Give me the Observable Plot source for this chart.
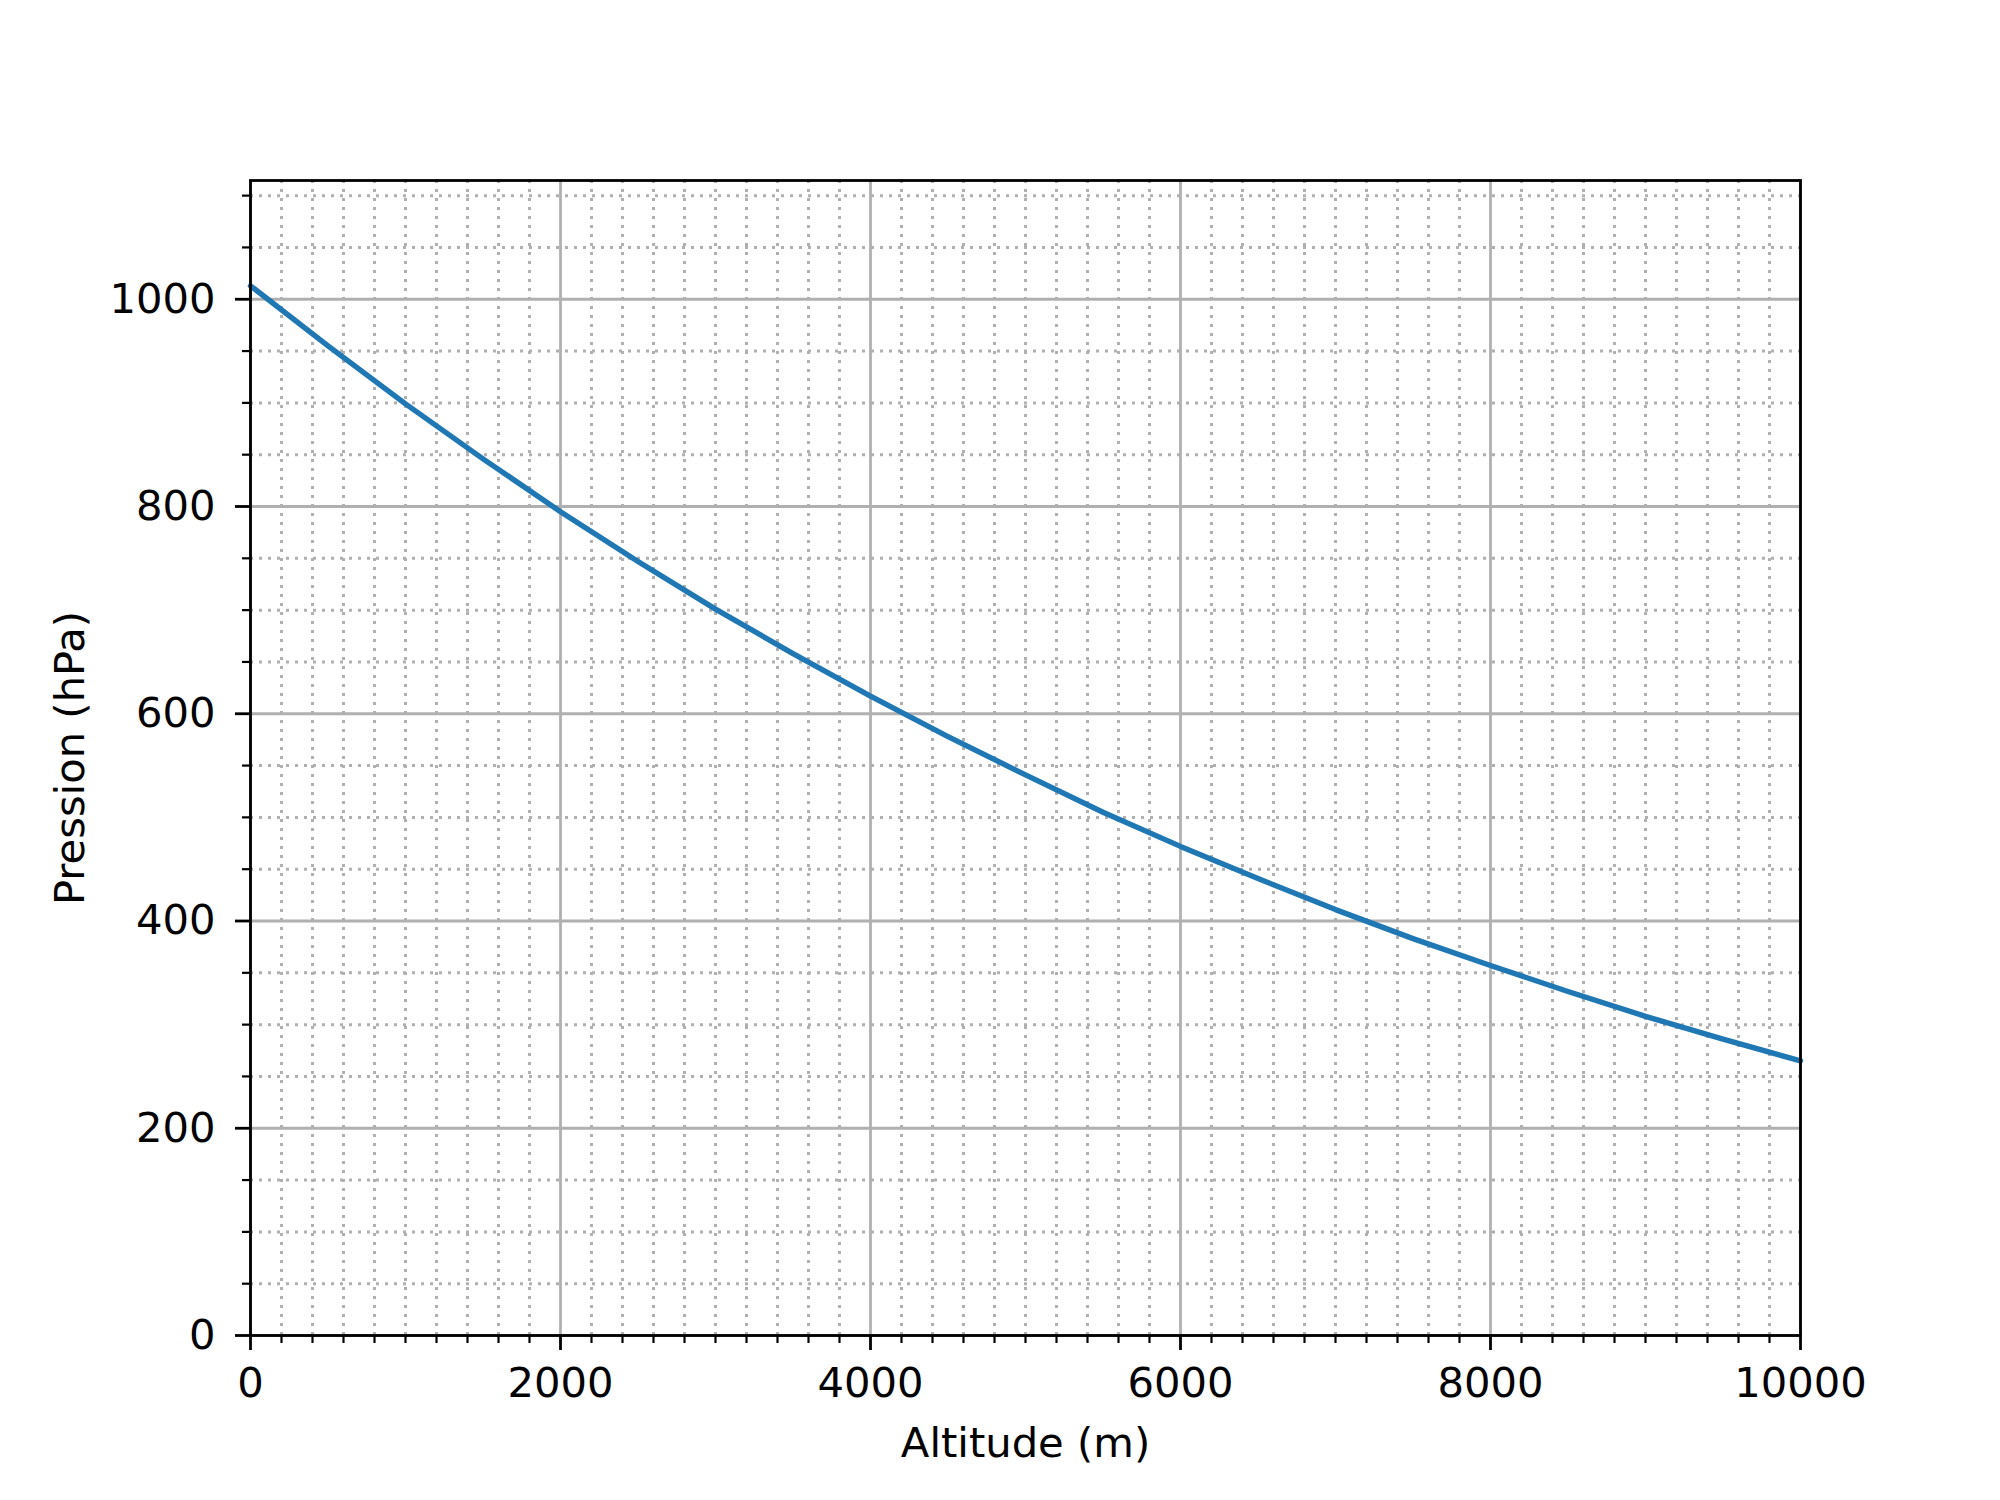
<!DOCTYPE html>
<html>
<head>
<meta charset="utf-8">
<script src="https://cdn.jsdelivr.net/npm/d3@7"></script>
<script src="https://cdn.jsdelivr.net/npm/@observablehq/plot@0.6"></script>
<style>
  html, body { margin: 0; padding: 0; background: white; }
</style>
</head>
<body>
<div id="chart"></div>
<script>
// Values
const altitudes = [0, 500, 1000, 1500, 2000, 2500, 3000, 3500, 4000, 4500, 5000,
                   5500, 6000, 6500, 7000, 7500, 8000, 8500, 9000, 9500, 10000];
const pressures = [1013, 955, 899, 846, 795, 747, 701, 658, 617, 578, 541,
                   505, 472, 441, 411, 383, 357, 332, 308, 286, 265];

const xMajorTicks = [0, 2000, 4000, 6000, 8000, 10000];
const xMinorTicks = d3.range(0, 10001, 200).filter(v => v % 2000 !== 0);
const yMajorTicks = [0, 200, 400, 600, 800, 1000];
const yMinorTicks = d3.range(0, 1114, 50).filter(v => v % 200 !== 0);

const xLabel = "Altitude (m)";
const yLabel = "Pression (hPa)";

const data = altitudes.map((a, i) => ({altitude: a, pression: pressures[i]}));
const FS = 41.7;

const chart = Plot.plot({
  width: 2000,
  height: 1500,
  marginLeft: 250,
  marginRight: 200,
  marginTop: 180,
  marginBottom: 165,
  style: {fontFamily: "DejaVu Sans", fontSize: FS + "px", background: "white", color: "black"},
  x: {domain: [0, 10000], label: null, axis: null},
  y: {domain: [0, 1114.6], label: null, axis: null},
  marks: [
    Plot.gridX(xMinorTicks, {stroke: "#b0b0b0", strokeOpacity: 1, strokeWidth: 3, strokeDasharray: "3,6"}),
    Plot.gridY(yMinorTicks, {stroke: "#b0b0b0", strokeOpacity: 1, strokeWidth: 3, strokeDasharray: "3,6"}),
    Plot.gridX(xMajorTicks, {stroke: "#b0b0b0", strokeOpacity: 1, strokeWidth: 2.8}),
    Plot.gridY(yMajorTicks, {stroke: "#b0b0b0", strokeOpacity: 1, strokeWidth: 2.8}),
    Plot.line(data, {x: "altitude", y: "pression", stroke: "#1f77b4", strokeWidth: 5.4}),
    Plot.frame({stroke: "black", strokeWidth: 2.8}),
    Plot.axisX(xMajorTicks, {tickSize: 15, tickPadding: 17, strokeWidth: 2.8, fontSize: FS, label: null, tickFormat: d => String(d)}),
    Plot.axisX(xMinorTicks, {tickSize: 8, strokeWidth: 2.2, tickFormat: () => "", label: null}),
    Plot.axisY(yMajorTicks, {tickSize: 15, tickPadding: 20, strokeWidth: 2.8, fontSize: FS, label: null, tickFormat: d => String(d)}),
    Plot.axisY(yMinorTicks, {tickSize: 8, strokeWidth: 2.2, tickFormat: () => "", label: null}),
    Plot.text([xLabel], {frameAnchor: "bottom", lineAnchor: "middle", textAnchor: "middle", dy: 108, fontSize: FS, fill: "black", text: d => d}),
    Plot.text([yLabel], {frameAnchor: "left", lineAnchor: "middle", textAnchor: "middle", dx: -180, rotate: -90, fontSize: FS, fill: "black", text: d => d})
  ]
});
document.getElementById("chart").appendChild(chart);
</script>
</body>
</html>
